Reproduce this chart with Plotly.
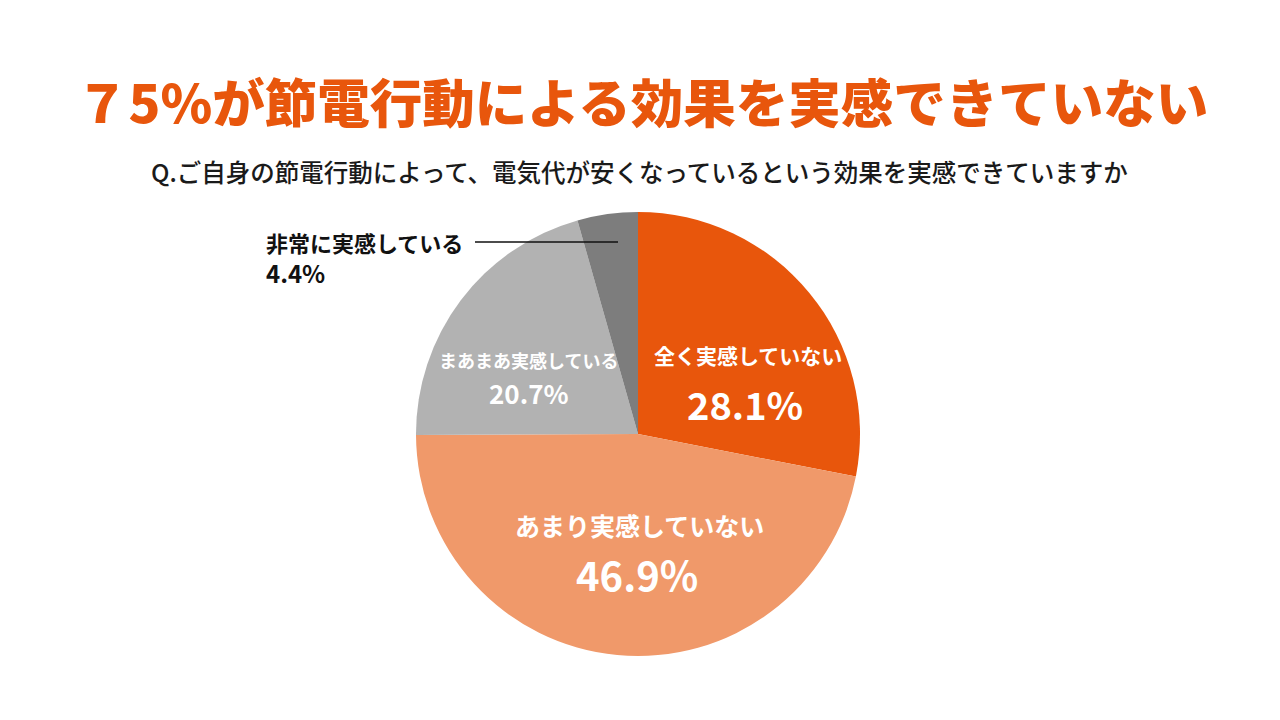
import plotly.graph_objects as go

categories = ["全く実感していない", "あまり実感していない", "まあまあ実感している", "非常に実感している"]
values = [28.1, 46.9, 20.7, 4.4]
colors = ["#E8560C", "#F0996A", "#B2B2B2", "#7D7D7D"]

FONT = "Noto Sans CJK JP"
W, H = 1280, 720
OFF = 8  # page body margin
cx, cy, r = 638 - OFF, 434 - OFF, 222

fig = go.Figure(go.Pie(
    labels=categories, values=values, sort=False, direction="clockwise", rotation=0,
    marker=dict(colors=colors, line=dict(width=0)), textinfo="none", hoverinfo="label+percent",
    showlegend=False,
    domain=dict(x=[(cx - r) / W, (cx + r) / W], y=[(H - cy - r) / H, (H - cy + r) / H]),
))

def px(x): return (x - OFF) / W
def py(y): return 1 - (y - OFF) / H

ann = []
def add(text, x, y, size, color, xanchor="center", weight="bold"):
    ann.append(dict(text=text, x=px(x), y=py(y), xref="paper", yref="paper", showarrow=False,
                    xanchor=xanchor, yanchor="middle", borderpad=0,
                    font=dict(family=FONT, size=size, color=color, weight=weight)))

add("７5%が節電行動による効果を実感できていない", 642, 100, 52.5, "#E8560C", weight=900)
add("Q.ご自身の節電行動によって、電気代が安くなっているという効果を実感できていますか",
    639, 172, 24.5, "#1a1a1a", weight=500)

add(categories[0], 748, 355, 21, "white")
add(f"{values[0]}%", 745, 403, 38, "white")
add(categories[1], 639, 525, 25, "white")
add(f"{values[1]}%", 637, 574, 40, "white")
add(categories[2], 528, 360, 18, "white")
add(f"{values[2]}%", 529, 392, 26, "white")
add(categories[3], 265, 242, 22, "#111111", "left")
add(f"{values[3]}%", 265, 272, 24, "#111111", "left")

fig.update_layout(
    width=W, height=H, margin=dict(l=0, r=0, t=0, b=0),
    paper_bgcolor="white", plot_bgcolor="white",
    annotations=ann,
    shapes=[dict(type="line", xref="paper", yref="paper", x0=px(475), x1=px(618), y0=py(242), y1=py(242),
                 line=dict(color="#111111", width=1.5))],
)
fig.write_html("out.html")
